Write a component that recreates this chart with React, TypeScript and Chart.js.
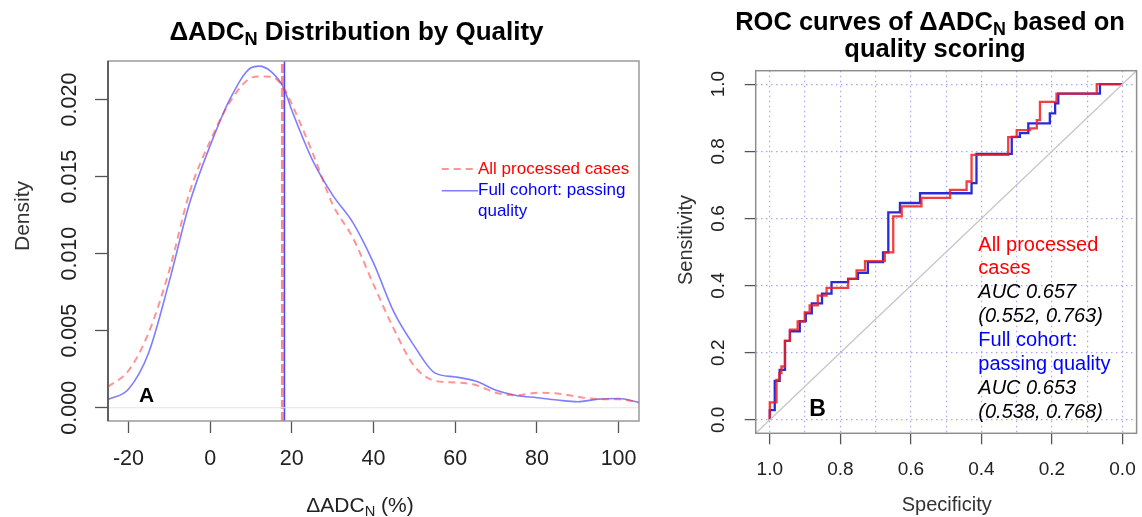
import React, { useEffect, useRef } from 'react';
import { Chart, registerables } from 'chart.js';

Chart.register(...registerables);

const FONT = '"Liberation Sans", Arial, Helvetica, sans-serif';

// ---------- Panel A: density ----------
const densityX = [-25, -20, -15, -10, -5, 0, 5, 10, 12, 15, 18, 20, 25, 30, 35, 40, 45, 50, 55, 60, 65, 70, 75, 80, 85, 90, 95, 100, 105];
const densityFullCohort = [0.00054, 0.0012, 0.0036, 0.0082, 0.0133, 0.017, 0.0201, 0.02206, 0.02217, 0.0218, 0.02076, 0.0193, 0.0161, 0.0138, 0.012, 0.0094, 0.0062, 0.004, 0.00226, 0.002, 0.00173, 0.00114, 0.0008, 0.00065, 0.0005, 0.00039, 0.00056, 0.0006, 0.00035];
const densityAllProcessed = [0.00136, 0.0024, 0.0049, 0.0089, 0.014, 0.0173, 0.0199, 0.02141, 0.0215, 0.02148, 0.02076, 0.0197, 0.0166, 0.0132, 0.011, 0.008, 0.0051, 0.0027, 0.00175, 0.00164, 0.00147, 0.00097, 0.0008, 0.00097, 0.00093, 0.00071, 0.00056, 0.00055, 0.00035];
const medianAllProcessed = 17.7;
const medianFullCohort = 18.2;
const xTicksA = [-20, 0, 20, 40, 60, 80, 100];
const yTicksA = [0, 0.005, 0.01, 0.015, 0.02];
const yTickLabelsA = ['0.000', '0.005', '0.010', '0.015', '0.020'];
const xRangeA = [-25, 105];
const yRangeA = [-0.00086, 0.0225];
const legendA = ['All processed cases', 'Full cohort: passing', 'quality'];

// ---------- Panel B: ROC ----------
const rocAllSpec = [1.0, 1.0, 0.981, 0.981, 0.973, 0.973, 0.967, 0.967, 0.957, 0.957, 0.943, 0.943, 0.921, 0.921, 0.901, 0.901, 0.887, 0.887, 0.864, 0.864, 0.839, 0.839, 0.778, 0.778, 0.754, 0.754, 0.73, 0.73, 0.674, 0.674, 0.65, 0.65, 0.626, 0.626, 0.57, 0.57, 0.489, 0.489, 0.442, 0.442, 0.428, 0.428, 0.324, 0.324, 0.3, 0.3, 0.262, 0.262, 0.243, 0.243, 0.234, 0.234, 0.187, 0.187, 0.073, 0.073, 0.0];
const rocAllSens = [0.0, 0.052, 0.052, 0.119, 0.119, 0.139, 0.139, 0.159, 0.159, 0.235, 0.235, 0.269, 0.269, 0.293, 0.293, 0.32, 0.32, 0.341, 0.341, 0.37, 0.37, 0.393, 0.393, 0.42, 0.42, 0.445, 0.445, 0.473, 0.473, 0.499, 0.499, 0.606, 0.606, 0.636, 0.636, 0.661, 0.661, 0.685, 0.685, 0.71, 0.71, 0.789, 0.789, 0.842, 0.842, 0.863, 0.863, 0.868, 0.868, 0.893, 0.893, 0.947, 0.947, 0.972, 0.972, 1.0, 1.0];
const rocFullSpec = [1.0, 1.0, 0.986, 0.986, 0.972, 0.972, 0.957, 0.957, 0.943, 0.943, 0.915, 0.915, 0.898, 0.898, 0.881, 0.881, 0.852, 0.852, 0.825, 0.825, 0.778, 0.778, 0.75, 0.75, 0.722, 0.722, 0.679, 0.679, 0.664, 0.664, 0.631, 0.631, 0.574, 0.574, 0.428, 0.428, 0.414, 0.414, 0.314, 0.314, 0.291, 0.291, 0.267, 0.267, 0.206, 0.206, 0.191, 0.191, 0.182, 0.182, 0.064, 0.064, 0.0];
const rocFullSens = [0.0, 0.029, 0.029, 0.116, 0.116, 0.149, 0.149, 0.235, 0.235, 0.264, 0.264, 0.294, 0.294, 0.317, 0.317, 0.347, 0.347, 0.376, 0.376, 0.41, 0.41, 0.42, 0.42, 0.438, 0.438, 0.47, 0.47, 0.499, 0.499, 0.618, 0.618, 0.646, 0.646, 0.675, 0.675, 0.705, 0.705, 0.792, 0.792, 0.843, 0.843, 0.854, 0.854, 0.883, 0.883, 0.913, 0.913, 0.943, 0.943, 0.972, 0.972, 1.0, 1.0];
const specTicks = [1.0, 0.9, 0.8, 0.7, 0.6, 0.5, 0.4, 0.3, 0.2, 0.1, 0.0];
const specTickLabels = ['1.0', '', '0.8', '', '0.6', '', '0.4', '', '0.2', '', '0.0'];
const sensTicks = [0, 0.2, 0.4, 0.6, 0.8, 1.0];
const sensTickLabels = ['0.0', '0.2', '0.4', '0.6', '0.8', '1.0'];
const rangeB = [-0.04, 1.04];
const legendB = [
  { text: 'All processed', color: '#ff0000', italic: false },
  { text: 'cases', color: '#ff0000', italic: false },
  { text: 'AUC 0.657', color: '#000000', italic: true },
  { text: '(0.552, 0.763)', color: '#000000', italic: true },
  { text: 'Full cohort:', color: '#0000ff', italic: false },
  { text: 'passing quality', color: '#0000ff', italic: false },
  { text: 'AUC 0.653', color: '#000000', italic: true },
  { text: '(0.538, 0.768)', color: '#000000', italic: true },
];

type Part = { t: string; sub?: boolean };

function drawParts(ctx: CanvasRenderingContext2D, parts: Part[], cx: number, baseY: number, size: number, weight: string, color: string) {
  const subSize = size * 0.7;
  const widths = parts.map((p) => {
    ctx.font = `${weight} ${p.sub ? subSize : size}px ${FONT}`;
    return ctx.measureText(p.t).width;
  });
  const total = widths.reduce((a, b) => a + b, 0);
  let x = cx - total / 2;
  ctx.textAlign = 'left';
  ctx.textBaseline = 'alphabetic';
  ctx.fillStyle = color;
  parts.forEach((p, i) => {
    ctx.font = `${weight} ${p.sub ? subSize : size}px ${FONT}`;
    ctx.fillText(p.t, x, baseY + (p.sub ? size * 0.2 : 0));
    x += widths[i];
  });
}

function rotatedText(ctx: CanvasRenderingContext2D, text: string, x: number, y: number) {
  ctx.save();
  ctx.translate(x, y);
  ctx.rotate(-Math.PI / 2);
  ctx.textAlign = 'center';
  ctx.textBaseline = 'middle';
  ctx.fillText(text, 0, 0);
  ctx.restore();
}

const panelAPlugin = {
  id: 'panelADecor',
  afterDraw(chart: any) {
    const { ctx, chartArea: ca, scales } = chart;
    const ys = scales.y;
    ctx.save();
    ctx.lineWidth = 1.5;
    ctx.strokeStyle = '#9a9a9a';
    ctx.strokeRect(ca.left, ca.top, ca.right - ca.left, ca.bottom - ca.top);
    ctx.strokeStyle = '#444';
    ctx.beginPath();
    ctx.moveTo(ca.left, ca.top);
    ctx.lineTo(ca.left, ca.bottom);
    ctx.stroke();

    ctx.fillStyle = '#222';
    ctx.font = `21.5px ${FONT}`;
    yTicksA.forEach((v, i) => rotatedText(ctx, yTickLabelsA[i], ca.left - 38, ys.getPixelForValue(v)));

    ctx.fillStyle = '#333';
    ctx.font = `21px ${FONT}`;
    rotatedText(ctx, 'Density', 23, 216);

    drawParts(ctx, [{ t: 'ΔADC' }, { t: 'N', sub: true }, { t: ' Distribution by Quality' }], 356.5, 40, 26, 'bold', '#000');
    drawParts(ctx, [{ t: 'ΔADC' }, { t: 'N', sub: true }, { t: ' (%)' }], 360, 512, 21, 'normal', '#222');

    // legend
    const lx0 = 441.7, lx1 = 478;
    const rows = [169, 190.7, 211.7];
    ctx.lineWidth = 2;
    ctx.strokeStyle = 'rgba(255,60,60,0.55)';
    ctx.setLineDash([7, 5]);
    ctx.beginPath(); ctx.moveTo(lx0, rows[0]); ctx.lineTo(lx1, rows[0]); ctx.stroke();
    ctx.setLineDash([]);
    ctx.lineWidth = 1.6;
    ctx.strokeStyle = 'rgba(40,40,255,0.6)';
    ctx.beginPath(); ctx.moveTo(lx0, rows[1]); ctx.lineTo(lx1, rows[1]); ctx.stroke();
    ctx.font = `17px ${FONT}`;
    ctx.textAlign = 'left';
    ctx.textBaseline = 'middle';
    ctx.fillStyle = '#ff0000';
    ctx.fillText(legendA[0], lx1, rows[0]);
    ctx.fillStyle = '#0000ff';
    ctx.fillText(legendA[1], lx1, rows[1]);
    ctx.fillText(legendA[2], lx1, rows[2]);

    ctx.fillStyle = '#000';
    ctx.font = `bold 21px ${FONT}`;
    ctx.textAlign = 'center';
    ctx.textBaseline = 'middle';
    ctx.fillText('A', 146.5, 396);
    ctx.restore();
  },
};

const panelBPlugin = {
  id: 'panelBDecor',
  afterDraw(chart: any) {
    const { ctx, chartArea: ca, scales } = chart;
    const ys = scales.y;
    ctx.save();
    ctx.lineWidth = 1.5;
    ctx.strokeStyle = '#8f8f8f';
    ctx.strokeRect(ca.left, ca.top, ca.right - ca.left, ca.bottom - ca.top);

    ctx.fillStyle = '#222';
    ctx.font = `19px ${FONT}`;
    sensTicks.forEach((v, i) => rotatedText(ctx, sensTickLabels[i], ca.left - 37, ys.getPixelForValue(v)));

    ctx.fillStyle = '#333';
    ctx.font = `20px ${FONT}`;
    rotatedText(ctx, 'Sensitivity', 26, 240);
    ctx.textAlign = 'center';
    ctx.textBaseline = 'alphabetic';
    ctx.fillText('Specificity', 286.7, 511);

    drawParts(ctx, [{ t: 'ROC curves of ΔADC' }, { t: 'N', sub: true }, { t: ' based on' }], 270, 30, 25.5, 'bold', '#000');
    drawParts(ctx, [{ t: 'quality scoring' }], 275, 57, 25.5, 'bold', '#000');

    ctx.textAlign = 'left';
    ctx.textBaseline = 'middle';
    legendB.forEach((row, i) => {
      ctx.font = `${row.italic ? 'italic ' : ''}20px ${FONT}`;
      ctx.fillStyle = row.color;
      ctx.fillText(row.text, 318.3, 245 + i * 23.9);
    });

    ctx.fillStyle = '#000';
    ctx.font = `bold 23px ${FONT}`;
    ctx.textAlign = 'center';
    ctx.fillText('B', 157.5, 410);
    ctx.restore();
  },
};

export default function App() {
  const refA = useRef<HTMLCanvasElement>(null);
  const refB = useRef<HTMLCanvasElement>(null);

  useEffect(() => {
    Chart.defaults.font.family = FONT;

    const chartA = new Chart(refA.current as HTMLCanvasElement, {
      type: 'line',
      data: {
        datasets: [
          {
            data: [{ x: xRangeA[0], y: 0 }, { x: xRangeA[1], y: 0 }],
            borderColor: '#e4e4e4',
            borderWidth: 1,
            pointRadius: 0,
          },
          {
            label: 'All processed cases',
            data: densityX.map((x, i) => ({ x, y: densityAllProcessed[i] })),
            borderColor: 'rgba(255,60,60,0.55)',
            borderWidth: 2,
            borderDash: [7, 5],
            pointRadius: 0,
            cubicInterpolationMode: 'monotone',
          },
          {
            label: 'Full cohort: passing quality',
            data: densityX.map((x, i) => ({ x, y: densityFullCohort[i] })),
            borderColor: 'rgba(40,40,255,0.6)',
            borderWidth: 1.6,
            pointRadius: 0,
            cubicInterpolationMode: 'monotone',
          },
          {
            data: [{ x: medianAllProcessed, y: yRangeA[0] }, { x: medianAllProcessed, y: yRangeA[1] }],
            borderColor: 'rgba(255,60,60,0.6)',
            borderWidth: 3,
            borderDash: [9, 3],
            pointRadius: 0,
          },
          {
            data: [{ x: medianFullCohort, y: yRangeA[0] }, { x: medianFullCohort, y: yRangeA[1] }],
            borderColor: 'rgba(40,40,255,0.85)',
            borderWidth: 1.5,
            pointRadius: 0,
          },
        ],
      } as any,
      options: {
        responsive: false,
        animation: false,
        devicePixelRatio: 1,
        layout: { padding: { top: 61, right: 21, left: 0, bottom: 0 } },
        plugins: { legend: { display: false }, tooltip: { enabled: false } },
        scales: {
          x: {
            type: 'linear',
            min: xRangeA[0],
            max: xRangeA[1],
            afterBuildTicks: (s: any) => { s.ticks = xTicksA.map((v) => ({ value: v })); },
            afterFit: (s: any) => { s.height = 96; s.paddingLeft = 0; s.paddingRight = 0; },
            border: { display: false },
            grid: { display: true, drawOnChartArea: false, drawTicks: true, tickLength: 12, tickColor: '#555', tickWidth: 1.3 },
            ticks: {
              autoSkip: false, maxRotation: 0, minRotation: 0, padding: 13, color: '#222',
              font: { family: FONT, size: 21.5 },
              callback: (_v: any, i: number) => String(xTicksA[i]),
            },
          },
          y: {
            type: 'linear',
            min: yRangeA[0],
            max: yRangeA[1],
            afterBuildTicks: (s: any) => { s.ticks = yTicksA.map((v) => ({ value: v })); },
            afterFit: (s: any) => { s.width = 108; s.paddingTop = 0; s.paddingBottom = 0; },
            border: { display: false },
            grid: { display: true, drawOnChartArea: false, drawTicks: true, tickLength: 13, tickColor: '#555', tickWidth: 1.3 },
            ticks: { display: false },
          },
        },
      } as any,
      plugins: [panelAPlugin],
    });

    const chartB = new Chart(refB.current as HTMLCanvasElement, {
      type: 'line',
      data: {
        datasets: [
          {
            data: [{ x: rangeB[1], y: 1 - rangeB[1] }, { x: rangeB[0], y: 1 - rangeB[0] }],
            borderColor: '#c6c6c6',
            borderWidth: 1.3,
            pointRadius: 0,
          },
          {
            label: 'All processed cases',
            data: rocAllSpec.map((x, i) => ({ x, y: rocAllSens[i] })),
            borderColor: 'rgba(240,30,30,0.85)',
            borderWidth: 2.3,
            pointRadius: 0,
            tension: 0,
          },
          {
            label: 'Full cohort: passing quality',
            data: rocFullSpec.map((x, i) => ({ x, y: rocFullSens[i] })),
            borderColor: 'rgba(20,20,210,0.9)',
            borderWidth: 2.3,
            pointRadius: 0,
            tension: 0,
          },
        ],
      } as any,
      options: {
        responsive: false,
        animation: false,
        devicePixelRatio: 1,
        layout: { padding: { top: 70.7, right: 5.4, left: 0, bottom: 0 } },
        plugins: { legend: { display: false }, tooltip: { enabled: false } },
        scales: {
          x: {
            type: 'linear',
            reverse: true,
            min: rangeB[0],
            max: rangeB[1],
            afterBuildTicks: (s: any) => { s.ticks = specTicks.map((v) => ({ value: v })); },
            afterFit: (s: any) => { s.height = 83.7; s.paddingLeft = 0; s.paddingRight = 0; },
            border: { display: false, dash: [1.5, 3.5] },
            grid: {
              display: true, drawOnChartArea: true, drawTicks: true, tickLength: 11,
              color: 'rgba(110,110,235,0.6)', lineWidth: 1.2,
              tickColor: (c: any) => (specTickLabels[c.index] ? '#555' : 'rgba(0,0,0,0)'),
              tickWidth: 1.3, tickBorderDash: [],
            },
            ticks: {
              autoSkip: false, maxRotation: 0, minRotation: 0, padding: 14.3, color: '#222',
              font: { family: FONT, size: 19 },
              callback: (_v: any, i: number) => specTickLabels[i],
            },
          },
          y: {
            type: 'linear',
            min: rangeB[0],
            max: rangeB[1],
            afterBuildTicks: (s: any) => { s.ticks = sensTicks.map((v) => ({ value: v })); },
            afterFit: (s: any) => { s.width = 95.7; s.paddingTop = 0; s.paddingBottom = 0; },
            border: { display: false, dash: [1.5, 3.5] },
            grid: {
              display: true, drawOnChartArea: true, drawTicks: true, tickLength: 11,
              color: 'rgba(110,110,235,0.6)', lineWidth: 1.2,
              tickColor: '#555', tickWidth: 1.3, tickBorderDash: [],
            },
            ticks: { display: false },
          },
        },
      } as any,
      plugins: [panelBPlugin],
    });

    return () => {
      chartA.destroy();
      chartB.destroy();
    };
  }, []);

  return (
    <div style={{ position: 'absolute', left: 0, top: 0, width: 1142, height: 517, background: '#fff', overflow: 'hidden' }}>
      <canvas ref={refA} width={660} height={517} style={{ position: 'absolute', left: 0, top: 0, width: 660, height: 517 }} />
      <canvas ref={refB} width={482} height={517} style={{ position: 'absolute', left: 660, top: 0, width: 482, height: 517 }} />
    </div>
  );
}
